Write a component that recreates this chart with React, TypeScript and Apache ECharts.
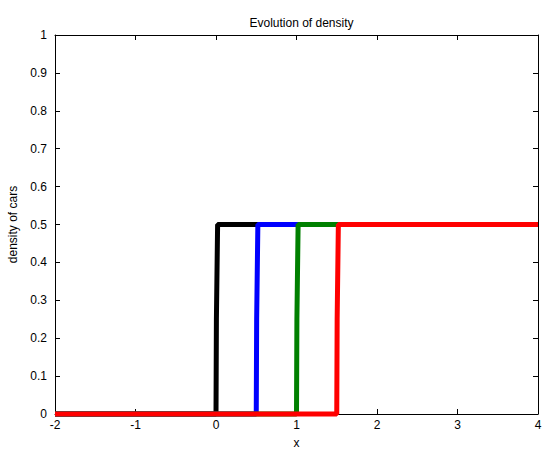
import React, { useEffect, useRef } from "react";
import * as echarts from "echarts";

const xTicks = [-2, -1, 0, 1, 2, 3, 4];
const yTicks = [0, 0.1, 0.2, 0.3, 0.4, 0.5, 0.6, 0.7, 0.8, 0.9, 1];

const blackSeries: [number, number][] = [[-2, 0], [0, 0], [0.005, 0.25], [0.02, 0.5], [4, 0.5]];
const blueSeries: [number, number][] = [[-2, 0], [0.5, 0], [0.505, 0.25], [0.52, 0.5], [4, 0.5]];
const greenSeries: [number, number][] = [[-2, 0], [1, 0], [1.005, 0.25], [1.02, 0.5], [4, 0.5]];
const redSeries: [number, number][] = [[-2, 0], [1.5, 0], [1.505, 0.25], [1.52, 0.5], [4, 0.5]];

const seriesNames = ["black", "blue", "green", "red"];
const seriesColors = ["#000000", "#0000ff", "#008000", "#ff0000"];
const seriesData = [blackSeries, blueSeries, greenSeries, redSeries];

const FONT = "Liberation Sans, Arial, sans-serif";

export default function App() {
  const ref = useRef<HTMLDivElement>(null);
  useEffect(() => {
    if (!ref.current) return;
    const chart = echarts.init(ref.current, undefined, { renderer: "svg" });
    const axisLine = { show: true, onZero: false, lineStyle: { color: "#000", width: 1 } };
    const tick = { show: true, inside: true, length: 5, lineStyle: { color: "#000" } };
    chart.setOption({
      animation: false,
      backgroundColor: "#fff",
      textStyle: { fontFamily: FONT },
      title: {
        text: "Evolution of density",
        left: 55 + 483 / 2,
        textAlign: "center",
        top: 12,
        textStyle: { fontSize: 12, fontWeight: "normal", color: "#000", fontFamily: FONT },
      },
      grid: { left: 55, right: 4, top: 35, bottom: 36, containLabel: false, outerBoundsMode: "none" },
      xAxis: [
        {
          type: "value",
          min: -2,
          max: 4,
          interval: 1,
          name: "x",
          nameLocation: "middle",
          nameGap: 23,
          nameTextStyle: { fontSize: 12, color: "#000", fontFamily: FONT },
          axisLine,
          axisTick: tick,
          splitLine: { show: false },
          axisLabel: {
            fontSize: 12,
            color: "#000",
            margin: 5,
            fontFamily: FONT,
            formatter: (v: number) => (xTicks.includes(v) ? String(v) : ""),
          },
        },
        {
          type: "value",
          position: "top",
          min: -2,
          max: 4,
          interval: 1,
          axisLine,
          axisTick: tick,
          axisLabel: { show: false },
          splitLine: { show: false },
        },
      ],
      yAxis: [
        {
          type: "value",
          min: 0,
          max: 1,
          interval: 0.1,
          name: "density of cars",
          nameLocation: "middle",
          nameGap: 36,
          nameTextStyle: { fontSize: 12, color: "#000", fontFamily: FONT },
          axisLine,
          axisTick: tick,
          splitLine: { show: false },
          axisLabel: {
            fontSize: 12,
            color: "#000",
            margin: 8,
            fontFamily: FONT,
            formatter: (v: number) => {
              const r = Math.round(v * 10) / 10;
              return yTicks.includes(r) ? String(r) : "";
            },
          },
        },
        {
          type: "value",
          position: "right",
          min: 0,
          max: 1,
          interval: 0.1,
          axisLine,
          axisTick: tick,
          axisLabel: { show: false },
          splitLine: { show: false },
        },
      ],
      series: seriesData.map((d, i) => ({
        name: seriesNames[i],
        type: "line",
        data: d,
        showSymbol: false,
        symbol: "none",
        lineStyle: { color: seriesColors[i], width: 5 },
        itemStyle: { color: seriesColors[i] },
        clip: false,
        z: 2 + i,
      })),
    });
    return () => chart.dispose();
  }, []);
  return <div ref={ref} style={{ width: 542, height: 450, position: "absolute", left: 0, top: 0 }} />;
}
